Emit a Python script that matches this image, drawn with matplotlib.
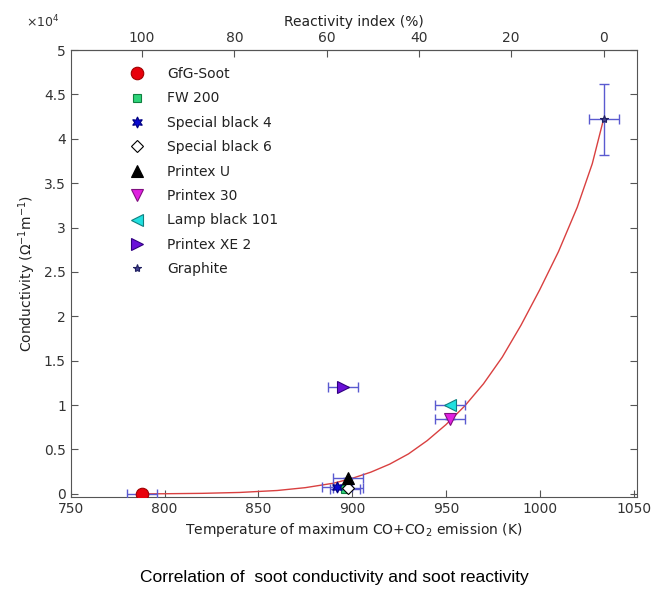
import matplotlib
matplotlib.use("Agg")
import matplotlib.pyplot as plt
from matplotlib.ticker import FuncFormatter

plt.rcParams['font.family'] = ['DejaVu Sans']
plt.rcParams['mathtext.fontset'] = 'dejavusans'

# soot samples
names = ['GfG-Soot', 'FW 200', 'Special black 4', 'Special black 6', 'Printex U',
         'Printex 30', 'Lamp black 101', 'Printex XE 2', 'Graphite']
temps = [788, 896, 892, 898, 898, 952, 952, 895, 1034]
conds = [0, 600, 800, 700, 1750, 8400, 10000, 12000, 42200]
temp_err = [8, 8, 8, 8, 8, 8, 8, 8, 8]
cond_err = [0, 0, 0, 0, 0, 0, 0, 0, 4000]

markers = ['o', 's', (6, 1, 0), 'D', '^', 'v', '<', '>', '*']
face_colors = ['#e8000b', '#2ed47a', '#0a0ad0', 'white', 'black',
               '#e020e0', '#20e0e0', '#6a10d8', '#404090']
edge_colors = ['#a00000', '#108040', '#000080', 'black', 'black',
               '#801080', '#108080', '#300080', '#202060']
marker_sizes = [9, 6, 8, 6, 8, 8, 8, 8, 6]

# fitted curve
curve_t = [788, 800, 820, 840, 860, 875, 890, 900, 910, 920, 930, 940, 950,
           960, 970, 980, 990, 1000, 1010, 1020, 1028, 1034]
curve_y = [0, 15, 60, 160, 380, 700, 1200, 1750, 2450, 3350, 4500, 6000, 7800,
           9900, 12400, 15400, 19000, 23000, 27300, 32300, 37200, 42200]

fig = plt.figure(figsize=(6.55, 5.92), dpi=100)
ax = fig.add_axes([0.108, 0.1605, 0.865, 0.755])

ax.plot(curve_t, curve_y, color='#d94040', lw=1.0, zorder=2)

ax.errorbar(temps, conds, xerr=temp_err, yerr=cond_err, fmt='none',
            ecolor='#5a5ad0', elinewidth=1.0, capsize=3.5, capthick=1.0, zorder=3)

handles = []
for i in range(len(names)):
    h, = ax.plot(temps[i], conds[i], linestyle='none', marker=markers[i],
                 markersize=marker_sizes[i], markerfacecolor=face_colors[i],
                 markeredgecolor=edge_colors[i], markeredgewidth=0.8,
                 label=names[i], zorder=4)
    handles.append(h)

ax.set_xlim(750, 1052)
ax.set_ylim(-350, 50000)
ax.set_xticks([750, 800, 850, 900, 950, 1000, 1050])
ax.set_yticks(range(0, 50001, 5000))
ax.yaxis.set_major_formatter(FuncFormatter(lambda v, p: '%g' % (v / 1e4)))
fig.text(0.04, 0.963, '$\\times10^4$', fontsize=9, color='#333333', va='center')

for s in ax.spines.values():
    s.set_color('#555555')
ax.tick_params(direction='in', length=5, right=True, top=False,
               labelsize=10, colors='#555555', labelcolor='#333333')

ax.set_xlabel('Temperature of maximum CO+CO$_2$ emission (K)', fontsize=10,
              color='#222222')
ax.set_ylabel('Conductivity ($\\Omega^{-1}$m$^{-1}$)', fontsize=10, color='#222222')

# reactivity index: 100 % for GfG-Soot, 0 % for graphite
t_hi = temps[8]
t_lo = temps[0]


def to_react(t):
    return 100.0 * (t_hi - t) / (t_hi - t_lo)


def to_temp(r):
    return t_hi - r * (t_hi - t_lo) / 100.0


sec = ax.secondary_xaxis('top', functions=(to_react, to_temp))
sec.set_xticks([100, 80, 60, 40, 20, 0])
sec.tick_params(direction='in', length=5, labelsize=10, colors='#555555',
                labelcolor='#333333')
sec.spines['top'].set_color('#555555')
sec.set_xlabel('Reactivity index (%)', fontsize=10, color='#222222')

ax.legend(handles=handles, loc='upper left', bbox_to_anchor=(0.07, 0.99),
          frameon=False, fontsize=10, labelspacing=0.75, handletextpad=1.2,
          labelcolor='#222222')

fig.text(0.51, 0.012, 'Correlation of  soot conductivity and soot reactivity',
         ha='center', va='bottom', fontsize=12.5, family='Liberation Sans')

fig.savefig('out.png', dpi=100)
